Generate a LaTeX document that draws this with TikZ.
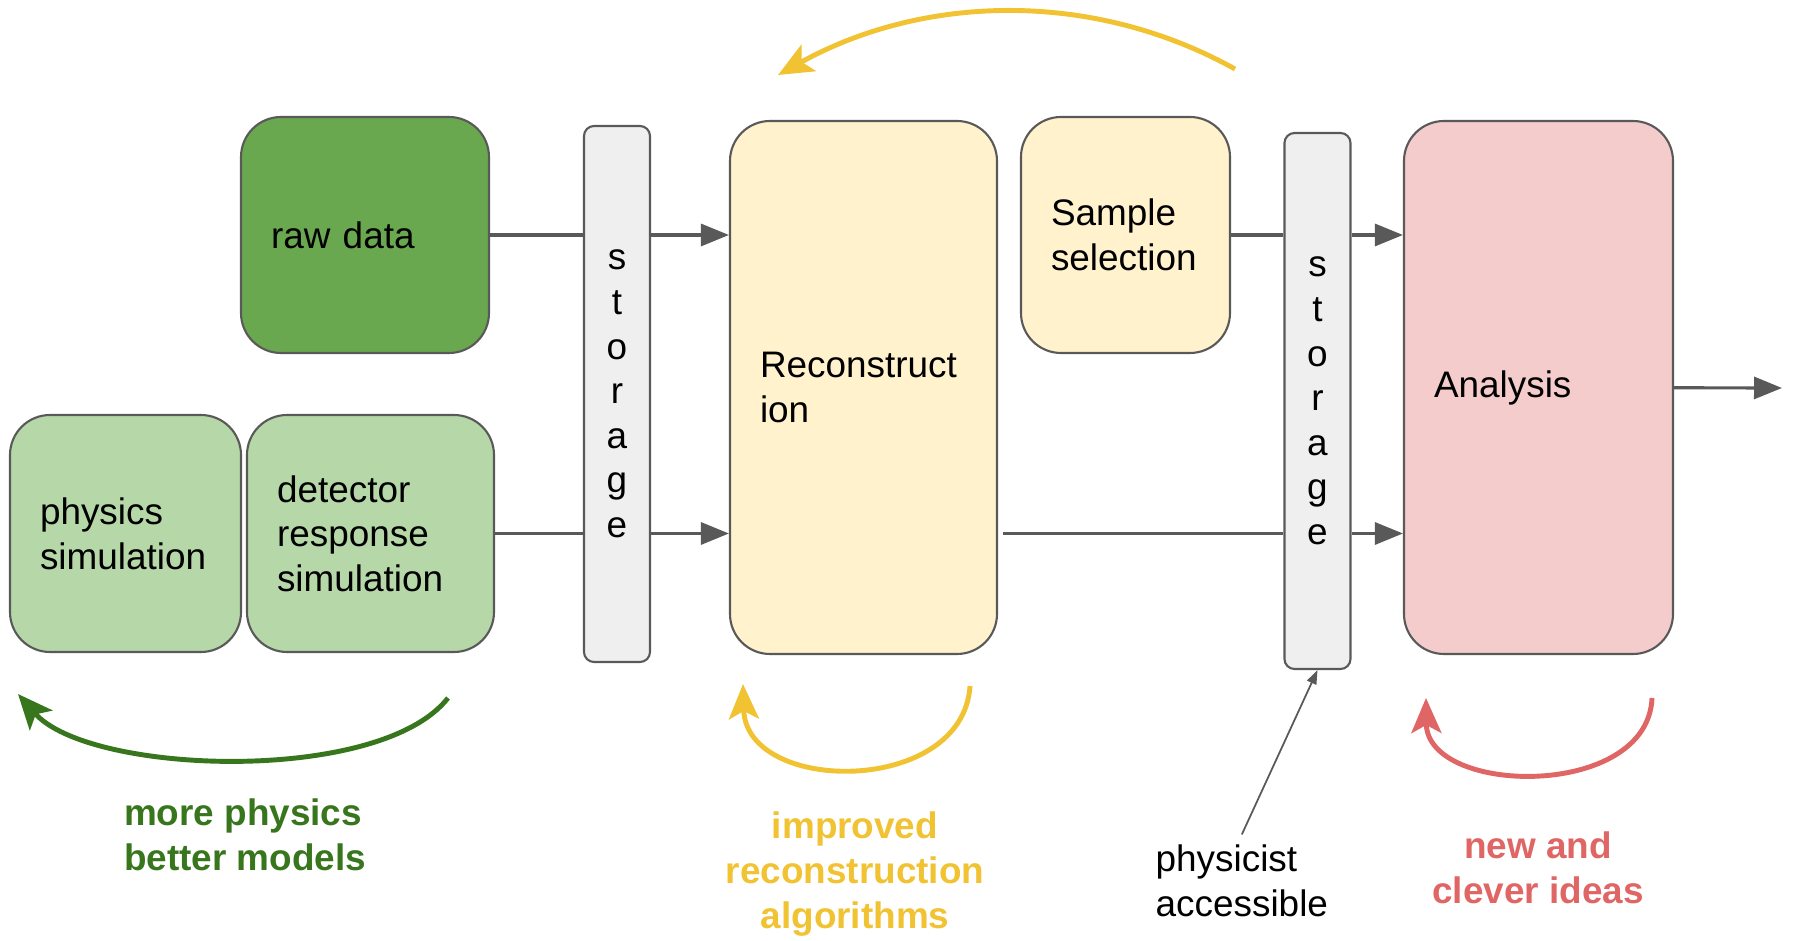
\documentclass[tikz,border=0pt]{standalone}
\usepackage{fontspec}
\setmainfont{Liberation Sans}
\usepackage{tikz}
\usetikzlibrary{arrows.meta,positioning}
\usepackage{xcolor}
\definecolor{RawGreen}{HTML}{6aa84f}
\definecolor{SimGreen}{HTML}{b6d7a8}
\definecolor{ArcGreen}{HTML}{38761d}
\definecolor{RecoYellow}{HTML}{fff2cc}
\definecolor{ArcYellow}{HTML}{f1c232}
\definecolor{AnaRed}{HTML}{f4cccc}
\definecolor{ArcRed}{HTML}{e06666}
\definecolor{StoreGray}{HTML}{efefef}
\definecolor{LineGray}{HTML}{595959}
\newcommand{\diagfont}{\fontsize{10.5pt}{12.7pt}\selectfont}

\tikzset{
  box/.style={draw=LineGray,line width=0.6pt,rounded corners=4mm,
    inner xsep=3mm,inner ysep=0pt,align=left},
  store/.style={draw=LineGray,fill=StoreGray,line width=0.6pt,
    rounded corners=1mm,minimum width=6.6mm,minimum height=53.6mm,
    inner sep=0pt,align=center},
  link/.style={draw=LineGray,line width=0.9pt},
  arr/.style={link,-{Triangle[length=2.8mm,width=2.2mm]}},
  loop/.style={line width=1.4pt,-{Stealth[length=3.5mm,width=3mm,inset=0.8mm]}},
  note/.style={font=\diagfont\bfseries,inner sep=0pt,align=center},
}

\begin{document}
\begin{tikzpicture}[x=0.1mm,y=-0.1mm,font=\diagfont]
   \useasboundingbox (0,0) rectangle (1793,941);

   \node[box,fill=RawGreen,text width=18.8mm,minimum height=23.6mm] (raw) at (365,235) {raw data};
   \node[box,fill=SimGreen,text width=17.1mm,minimum height=23.7mm] (phys) at (125.5,533.5) {physics\\simulation};
   \node[box,fill=SimGreen,text width=18.7mm,minimum height=23.7mm] (det) at (370.5,533.5) {detector\\response\\simulation};
   \node[store] (st1) at (617,394) {s\\t\\o\\r\\a\\g\\e};
   \node[box,fill=RecoYellow,text width=20.7mm,minimum height=53.3mm] (reco) at (863.5,387.5) {Reconstruct\\ion};
   \node[box,fill=RecoYellow,text width=14.9mm,minimum height=23.6mm] (sel) at (1125.5,235) {Sample\\selection};
   \node[store] (st2) at (1317.5,401) {s\\t\\o\\r\\a\\g\\e};
   \node[box,fill=AnaRed,text width=20.9mm,minimum height=53.3mm] (ana) at (1538.5,387.5) {Analysis};
   \coordinate (out) at (1782,388);

   \draw[link] (raw) -- (raw -| st1.west);
   \draw[arr] (raw -| st1.east) -- (raw -| reco.west);
   \draw[link] (det) -- (det -| st1.west);
   \draw[arr] (det -| st1.east) -- (det -| reco.west);
   \draw[link] (sel) -- (sel -| st2.west);
   \draw[arr] (sel -| st2.east) -- (sel -| ana.west);
   \draw[link] ([xshift=0.5mm]reco.east |- det) -- (det -| st2.west);
   \draw[arr] (det -| st2.east) -- (det -| ana.west);
   \draw[arr] (ana) -- (out);

   % feedback loops
   \draw[loop,ArcYellow] (1235,69) .. controls (1091,-11) and (922,-5) .. (778,75);
   \draw[loop,ArcGreen] (448,698) .. controls (380,785) and (89,775) .. (18,694);
   \draw[loop,ArcYellow] (970,686) .. controls (963,796) and (746,795) .. (743,684);
   \draw[loop,ArcRed] (1652,698) .. controls (1648,800) and (1427,796) .. (1426,698);

   \node[note,ArcGreen,align=left] (more) at (245,835) {more physics\\better models};
   \node[note,ArcYellow] (impr) at (855,874) {improved\\reconstruction\\algorithms};
   \node[note,ArcRed] (idea) at (1538,868) {new and\\clever ideas};
   \node[inner sep=0pt,align=left,anchor=west] (user) at (1155,881) {physicist\\accessible};

   \draw[LineGray,line width=0.5pt,-{Triangle[length=1.4mm,width=1mm]}]
    ([yshift=1mm]user.north) -- (st2.south);
\end{tikzpicture}
\end{document}
